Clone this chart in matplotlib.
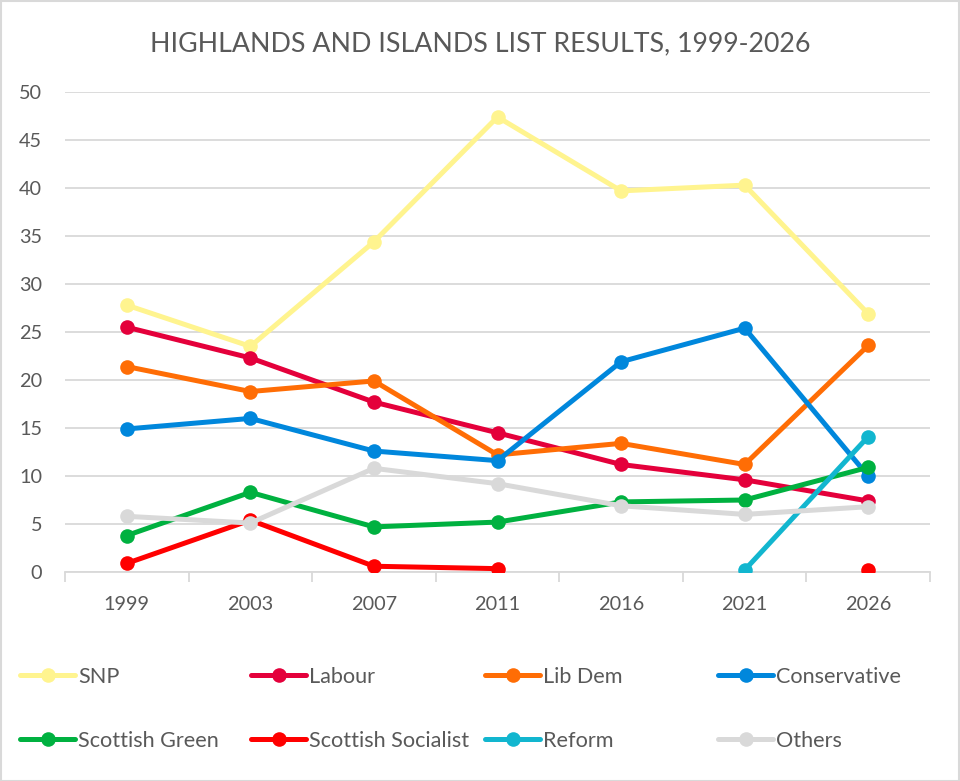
import numpy as np
import matplotlib
matplotlib.use("Agg")
import matplotlib.pyplot as plt
from matplotlib.patches import Rectangle

plt.rcParams['font.family'] = ['Lato', 'DejaVu Sans']

years = ["1999", "2003", "2007", "2011", "2016", "2021", "2026"]
nan = np.nan
snp = [27.8, 23.5, 34.4, 47.4, 39.7, 40.3, 26.9]
labour = [25.5, 22.3, 17.7, 14.5, 11.2, 9.6, 7.4]
libdem = [21.4, 18.8, 19.9, 12.2, 13.4, 11.2, 23.6]
conservative = [14.9, 16.0, 12.6, 11.6, 21.9, 25.4, 10.0]
green = [3.8, 8.3, 4.7, 5.2, 7.3, 7.5, 10.9]
socialist = [0.9, 5.4, 0.6, 0.35, nan, nan, 0.2]
reform = [nan, nan, nan, nan, nan, 0.2, 14.1]
others = [5.8, 5.1, 10.8, 9.2, 6.9, 6.0, 6.8]

series = [
    ("SNP", snp, "#FFF48F"),
    ("Labour", labour, "#E4003B"),
    ("Lib Dem", libdem, "#FF6D05"),
    ("Conservative", conservative, "#0087DC"),
    ("Scottish Green", green, "#00B140"),
    ("Scottish Socialist", socialist, "#FF0000"),
    ("Reform", reform, "#12B6CF"),
    ("Others", others, "#D9D9D9"),
]

fig = plt.figure(figsize=(9.6, 7.81), dpi=100)
W, H = 960, 781
ax = fig.add_axes([65 / W, 1 - 572 / H, (930 - 65) / W, (572 - 92) / H])

x = np.arange(len(years))
handles = []
for name, vals, col in series:
    ln, = ax.plot(x, vals, color=col, lw=3.6, marker='o', markersize=10.5,
                  markeredgewidth=0, label=name, solid_capstyle='round', zorder=3)
    handles.append(ln)

ax.set_xlim(-0.5, len(years) - 0.5)
ax.set_ylim(0, 50)
ax.set_yticks(range(0, 51, 5))
ax.set_xticks(x)
ax.set_xticklabels(years)
ax.set_xticks(np.arange(-0.5, len(years)), minor=True)
ax.tick_params(axis='x', which='major', length=0, pad=17, labelsize=14.3, labelcolor='#595959')
ax.tick_params(axis='x', which='minor', length=7, width=1.3, color='#D9D9D9', direction='out')
ax.tick_params(axis='y', length=0, pad=16.5, labelsize=14.3, labelcolor='#595959')
ax.grid(axis='y', color='#D9D9D9', lw=1.3, zorder=0)
ax.set_axisbelow(True)
for s in ['left', 'right', 'top']:
    ax.spines[s].set_visible(False)
ax.spines['bottom'].set_color('#D9D9D9')
ax.spines['bottom'].set_linewidth(1.3)

fig.text(480 / W, 1 - 44 / H, "HIGHLANDS AND ISLANDS LIST RESULTS, 1999-2026",
         ha='center', va='center', fontsize=19.3, color='#595959')

# legend entries (Excel-like equal columns)
col_x = [20, 251, 485, 718]
row_y = [677, 741]
fs = 15.6
for i, h in enumerate(handles):
    r, c = divmod(i, 4)
    fig.legend(handles=[h], labels=[h.get_label()], loc='center left',
               bbox_to_anchor=(col_x[c] / W, 1 - row_y[r] / H),
               frameon=False, fontsize=fs, handlelength=2.55,
               handletextpad=0.12, borderaxespad=0, borderpad=0,
               labelcolor='#595959')

fig.patches.append(Rectangle((0.5 / W, 0.5 / H), 1 - 1.5 / W, 1 - 1.5 / H,
                             transform=fig.transFigure, fill=False,
                             edgecolor='#D9D9D9', lw=1.5))

fig.savefig("out.png", dpi=100)
